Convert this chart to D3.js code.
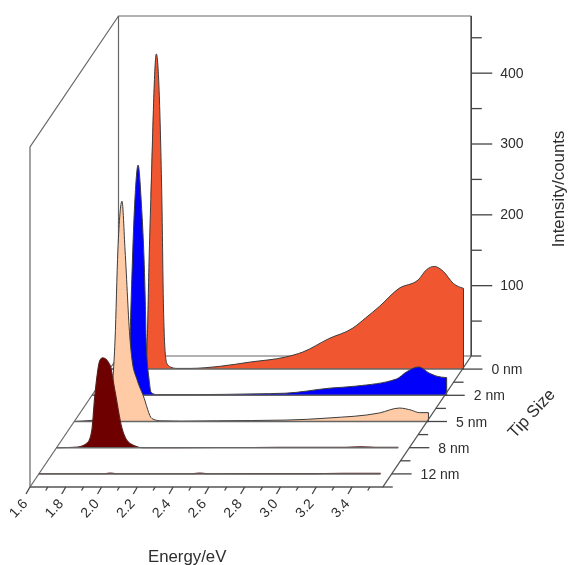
<!DOCTYPE html>
<html>
<head>
<meta charset="utf-8">
<script src="https://cdn.jsdelivr.net/npm/d3@7"></script>
<style>
html,body{margin:0;padding:0;background:#fff}
svg{display:block;filter:blur(0.45px)}
text{font-family:"Liberation Sans",Arial,sans-serif;fill:#2e2e2e}
</style>
</head>
<body>
<svg id="chart" width="570" height="565"></svg>
<script>
const tipSizes = ["12 nm","8 nm","5 nm","2 nm","0 nm"];
const seriesColors = {"0 nm":"#f05630","2 nm":"#0000fb","5 nm":"#ffcba6","8 nm":"#6e0000","12 nm":"#7a1010"};

const energy0 = [1.6,1.78,1.80,1.81,1.82,1.83,1.861,1.892,1.90,1.91,1.92,1.94,1.97,2.05,2.218,2.387,2.583,2.679,2.825,2.96,3.03,3.106,3.218,3.325,3.37,3.415,3.465,3.521,3.578];
const counts0 = [0,0,5,40,150,239,445,239,100,25,8,3,1,1,4,10,17,24,43,58,72,88,114,126,140,145,138,121,114];

const energy2 = [1.6,1.78,1.80,1.808,1.819,1.84,1.858,1.875,1.898,1.903,1.92,1.931,1.96,2.2,2.5,2.684,2.926,3.078,3.302,3.358,3.426,3.488,3.527,3.583];
const counts2 = [0,1,10,40,134,276,325,276,134,78,21,4,1,1,2,3,10,13,23,33,40,31,27,25];

const energy5 = [1.6,1.788,1.805,1.816,1.828,1.844,1.867,1.884,1.912,1.923,1.951,1.985,2.035,2.08,2.2,2.4,2.783,3.024,3.305,3.417,3.484,3.529,3.58];
const counts5 = [0,5,20,59,115,242,311,242,115,87,59,37,4,1,0.5,1,2,5,12,19,16,12.5,12.5];

const energy8 = [1.6,1.718,1.774,1.797,1.813,1.842,1.858,1.898,1.926,1.965,2.01,2.083,2.5,3.2,3.3,3.4,3.51];
const counts8 = [0,1,7,24,71,123,127,117,81,28,6,0,0.3,0.6,1.4,0.7,0.6];

const energy12 = [1.6,1.97,2.0,2.03,2.46,2.5,2.54,3.1,3.3,3.51];
const counts12 = [0.3,0.3,1.2,0.3,0.3,1.2,0.3,0.4,0.9,0.9];

const seriesData = {
  "0 nm":[energy0,counts0],
  "2 nm":[energy2,counts2],
  "5 nm":[energy5,counts5],
  "8 nm":[energy8,counts8],
  "12 nm":[energy12,counts12]
};

const energyMajor = [1.6,1.8,2.0,2.2,2.4,2.6,2.8,3.0,3.2,3.4];
const energyMinor = [1.7,1.9,2.1,2.3,2.5,2.7,2.9,3.1,3.3,3.5];
const countMajor = [100,200,300,400];
const countMinor = [50,150,250,350,450];

const svg = d3.select("#chart");
const originX = 30, originY = 487, depthDX = 88.5, depthDY = -131;
const xEnd = 3.572;

const x = d3.scaleLinear().domain([1.6,3.4]).range([originX,originX+322]);
const y = d3.scaleLinear().domain([0,480]).range([0,-340]);
const z = d3.scaleBand().domain(tipSizes).range([0,1]);
const zMid = d => z(d)+z.bandwidth()/2;

const px = (e,t) => x(e)+t*depthDX;
const py = (c,t) => originY+t*depthDY+y(c);

const frame = "#666";

// walls and floor
const wall = svg.append("g").attr("fill","none").attr("stroke",frame).attr("stroke-width",1.2);
wall.append("path").attr("d",`M${px(1.6,0)},${py(0,0)}V${py(480,0)}L${px(1.6,1)},${py(480,1)}H${px(xEnd,1)}`);
wall.append("path").attr("d",`M${px(1.6,1)},${py(480,1)}V${py(0,1)}H${px(xEnd,1)}`);
wall.append("path").attr("d",`M${px(1.6,0)},${py(0,0)}L${px(1.6,1)},${py(0,1)}`);

// value axis on the back right edge
const yScaleAbs = y.copy().range([py(0,1),py(480,1)]);
const axG = svg.append("g").attr("transform",`translate(${px(xEnd,1)},0)`);
axG.append("g").call(d3.axisRight(yScaleAbs).tickValues(countMajor).tickSize(21).tickPadding(8));
axG.append("g").call(d3.axisRight(yScaleAbs).tickValues(countMinor).tickSize(10.5).tickFormat(""));
axG.selectAll("line").attr("stroke","#444").attr("stroke-width",1.3);
axG.selectAll(".domain").attr("stroke","#444").attr("stroke-width",1.3).attr("d",`M0,${py(0,1)}V${py(480,1)}`);
axG.selectAll("text").attr("font-size",14).attr("fill","#2e2e2e").style("font-family",'"Liberation Sans"');

// series, back to front
tipSizes.slice().reverse().forEach(name=>{
  const t = zMid(name);
  const [es,cs] = seriesData[name];
  const pts = es.map((e,i)=>[e,cs[i]]);
  const area = d3.area().x(d=>px(d[0],t)).y0(py(0,t)).y1(d=>py(d[1],t)).curve(d3.curveMonotoneX);
  const line = d3.line().x(d=>px(d[0],t)).y(d=>py(d[1],t)).curve(d3.curveMonotoneX);
  const g = svg.append("g");
  g.append("path").attr("d",area(pts)).attr("fill",seriesColors[name]);
  const last = pts[pts.length-1];
  const big = name!=="12 nm" && name!=="8 nm";
  g.append("path").attr("d",line(pts)+(big?`V${py(0,t)}`:"")).attr("fill","none").attr("stroke",big?"#3c3c3c":"#5a2020").attr("stroke-width",big?1:1.1);
  g.append("line").attr("x1",px(1.6,t)).attr("x2",px(last[0],t)).attr("y1",py(0,t)).attr("y2",py(0,t)).attr("stroke","#666").attr("stroke-width",1.5);
});

// floor front edge and right edge
const floor = svg.append("g").attr("fill","none").attr("stroke","#555").attr("stroke-width",1.3);
floor.append("path").attr("d",`M${px(1.6,0)},${py(0,0)}H${px(xEnd,0)}L${px(xEnd,1)},${py(0,1)}`);

// energy ticks
const xt = svg.append("g").attr("stroke","#444").attr("stroke-width",1.3);
xt.selectAll("line.maj").data(energyMajor).join("line").attr("class","maj")
  .attr("x1",d=>x(d)).attr("y1",originY).attr("x2",d=>x(d)-4).attr("y2",originY+7);
xt.selectAll("line.min").data(energyMinor).join("line").attr("class","min")
  .attr("x1",d=>x(d)).attr("y1",originY).attr("x2",d=>x(d)-2.2).attr("y2",originY+3.5);
svg.append("g").selectAll("text").data(energyMajor).join("text")
  .attr("transform",d=>`translate(${x(d)-12},${originY+21}) rotate(-47)`)
  .attr("text-anchor","middle").attr("dy","0.35em").attr("font-size",14)
  .text(d=>d.toFixed(1));

// tip size ticks
const zt = svg.append("g").attr("stroke","#444").attr("stroke-width",1.3);
tipSizes.forEach(name=>{
  const t = zMid(name);
  zt.append("line").attr("x1",px(xEnd,t)).attr("x2",px(xEnd,t)+20).attr("y1",py(0,t)).attr("y2",py(0,t));
  const m = z(name);
  zt.append("line").attr("x1",px(xEnd,m)).attr("x2",px(xEnd,m)+10).attr("y1",py(0,m)).attr("y2",py(0,m));
  svg.append("text").attr("x",px(xEnd,t)+29).attr("y",py(0,t)).attr("dy","0.36em").attr("font-size",14).text(name);
});
const zBack = z.range()[1];
zt.append("line").attr("x1",px(xEnd,zBack)).attr("x2",px(xEnd,zBack)+10).attr("y1",py(0,zBack)).attr("y2",py(0,zBack));

// titles
svg.append("text").attr("x",148).attr("y",562).attr("font-size",16.8).text("Energy/eV");
svg.append("text").attr("transform","translate(558,189) rotate(-90)").attr("dy","0.35em").attr("text-anchor","middle").attr("font-size",16.8).text("Intensity/counts");
svg.append("text").attr("transform","translate(531,413) rotate(-47)").attr("dy","0.35em").attr("text-anchor","middle").attr("font-size",16.8).text("Tip Size");
</script>
</body>
</html>
